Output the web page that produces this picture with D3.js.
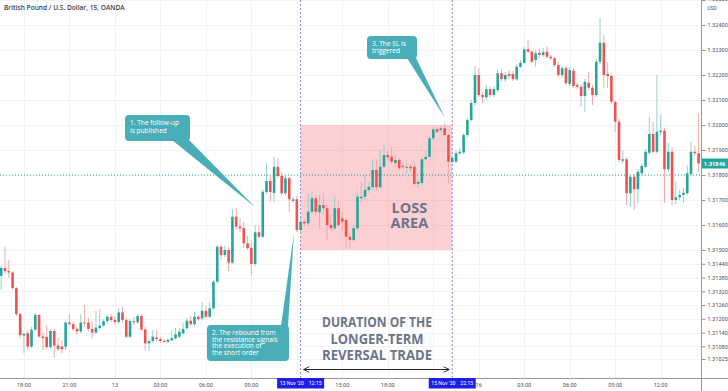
<!DOCTYPE html>
<html>
<head>
<meta charset="utf-8">
<script src="https://cdn.jsdelivr.net/npm/d3@7"></script>
<style>
body { margin: 0; background: #fff; }
svg { display: block; font-family: "Open Sans", sans-serif; }
</style>
</head>
<body>
<script>
// GBP/USD 15 min candles, 12 Nov 16:30 -> 16 Nov 14:30 (weekend skipped)
var open = [
1.31387,1.31422,1.31408,1.31402,1.31334,1.31221,1.31127,1.31138,1.31079,1.31153,
1.31217,1.31123,1.31121,1.31077,1.31147,1.31084,1.31079,1.31079,1.31184,1.31177,
1.31156,1.31145,1.31184,1.31184,1.31156,1.3114,1.3116,1.31171,1.3119,1.31209,
1.31195,1.31186,1.31228,1.31195,1.31122,1.3119,1.31185,1.31212,1.31154,1.31093,
1.31103,1.31119,1.31112,1.31103,1.311,1.31106,1.31115,1.31122,1.31137,1.31159,
1.31192,1.31177,1.31209,1.31202,1.31235,1.31209,1.31246,1.31362,1.31513,1.31478,
1.315,1.31445,1.31633,1.31594,1.31588,1.31527,1.31508,1.31439,1.31571,1.31553,
1.31732,1.31776,1.31728,1.31833,1.31796,1.31727,1.31787,1.31696,1.31703,1.3158,
1.31613,1.31607,1.31653,1.31707,1.31651,1.3168,1.31667,1.316,1.31587,1.31667,
1.31627,1.3162,1.31553,1.3154,1.31587,1.31707,1.31713,1.3174,1.31751,1.3182,
1.31751,1.31833,1.3188,1.31873,1.31848,1.3186,1.31837,1.31832,1.31833,1.31833,
1.31764,1.31768,1.31863,1.31873,1.31947,1.31983,1.3198,1.31987,1.3196,1.31852,
1.31853,1.31887,1.3189,1.3196,1.3202,1.32088,1.322,1.3212,1.32111,1.32143,
1.3212,1.3214,1.32207,1.32183,1.32204,1.32204,1.32183,1.32233,1.32248,1.32303,
1.32293,1.3226,1.32288,1.3228,1.32293,1.32273,1.32267,1.3224,1.322,1.32227,
1.32164,1.32217,1.3216,1.32153,1.32116,1.32169,1.32149,1.3212,1.32253,1.32329,
1.32204,1.32196,1.32092,1.32013,1.31857,1.31863,1.31727,1.31793,1.31743,1.31807,
1.31833,1.31889,1.31964,1.31893,1.31972,1.31977,1.31823,1.31893,1.317,1.31711,
1.3172,1.31727,1.31804,1.31893,1.31887
];
var high = [
1.31435,1.31512,1.31456,1.31408,1.31339,1.31225,1.31138,1.31151,1.31164,1.31225,
1.31221,1.31142,1.31173,1.31156,1.31156,1.31116,1.31108,1.3119,1.31221,1.31186,
1.31164,1.31221,1.3126,1.31204,1.3119,1.31234,1.31243,1.31199,1.31217,1.31221,
1.31212,1.31248,1.31251,1.31204,1.31199,1.31208,1.31221,1.31221,1.31164,1.31112,
1.31151,1.31151,1.31121,1.31112,1.31116,1.31151,1.3116,1.3116,1.31182,1.31204,
1.31212,1.3123,1.31217,1.31273,1.31256,1.31273,1.31369,1.3152,1.31524,1.31516,
1.31512,1.31663,1.31668,1.31628,1.31612,1.31556,1.3154,1.316,1.316,1.3174,
1.31847,1.318,1.31873,1.31868,1.31812,1.318,1.31792,1.31712,1.31716,1.31624,
1.31624,1.31728,1.31736,1.3172,1.3172,1.31728,1.3168,1.3164,1.3172,1.31696,
1.31652,1.31628,1.31568,1.316,1.31728,1.31772,1.318,1.31772,1.3186,1.3186,
1.319,1.3192,1.319,1.31912,1.3188,1.31868,1.31852,1.31848,1.31844,1.31848,
1.31784,1.31872,1.319,1.31956,1.31992,1.31992,1.32,1.32007,1.31968,1.31872,
1.319,1.31908,1.31968,1.32028,1.321,1.32236,1.32228,1.32132,1.3216,1.32152,
1.32156,1.3222,1.32224,1.32212,1.3222,1.32216,1.32244,1.3226,1.32312,1.3234,
1.323,1.323,1.32304,1.32308,1.32313,1.3228,1.32272,1.32252,1.32236,1.32236,
1.32232,1.32228,1.32168,1.32164,1.32184,1.32213,1.3216,1.32264,1.32427,1.3236,
1.32252,1.32204,1.321,1.32024,1.319,1.31872,1.31804,1.31804,1.31824,1.31848,
1.31904,1.32033,1.32013,1.322,1.3204,1.31988,1.31928,1.31912,1.31773,1.3174,
1.31748,1.3184,1.31933,1.31916,1.32047
];
var low = [
1.31326,1.31395,1.31378,1.31326,1.31212,1.31116,1.31051,1.31064,1.31073,1.31147,
1.31116,1.31064,1.31068,1.31068,1.31029,1.3106,1.31051,1.31064,1.31169,1.31147,
1.31129,1.31138,1.31164,1.31147,1.31116,1.31134,1.31151,1.31164,1.31182,1.31186,
1.31173,1.31177,1.31182,1.31116,1.31116,1.31173,1.31177,1.31147,1.3106,1.3106,
1.31095,1.31103,1.31095,1.31095,1.31095,1.31103,1.31108,1.31116,1.31129,1.31151,
1.31169,1.31169,1.3119,1.31195,1.31204,1.31204,1.31238,1.31356,1.31456,1.31469,
1.31408,1.31439,1.3158,1.31572,1.31508,1.315,1.31391,1.3143,1.31548,1.31548,
1.31724,1.31692,1.31693,1.31788,1.3172,1.3172,1.31653,1.31688,1.31572,1.31568,
1.31596,1.31596,1.31644,1.3164,1.31588,1.3164,1.3154,1.31576,1.3158,1.31592,
1.3158,1.31508,1.31504,1.31532,1.3158,1.31688,1.317,1.31728,1.3174,1.3174,
1.31748,1.31828,1.3186,1.31844,1.31832,1.3182,1.31824,1.31808,1.31812,1.31756,
1.31748,1.3176,1.31856,1.31868,1.3194,1.31968,1.31972,1.31952,1.31767,1.31848,
1.31848,1.3188,1.31884,1.31952,1.32012,1.32076,1.32112,1.32088,1.321,1.32112,
1.32112,1.32132,1.32176,1.32172,1.32184,1.32176,1.32176,1.32228,1.32244,1.32288,
1.32248,1.32233,1.32268,1.32272,1.32268,1.3226,1.32232,1.32192,1.32188,1.3216,
1.32156,1.32148,1.32144,1.32073,1.32053,1.3214,1.3208,1.32112,1.32244,1.32147,
1.32148,1.32084,1.31972,1.31852,1.31848,1.3168,1.31673,1.3166,1.31687,1.318,
1.31828,1.3188,1.31888,1.31884,1.3196,1.31688,1.31812,1.3168,1.31684,1.317,
1.31688,1.3172,1.31796,1.31876,1.31812
];
var close = [
1.31422,1.31408,1.31402,1.31334,1.31221,1.31129,1.31134,1.31079,1.31153,1.31217,
1.31123,1.31116,1.31077,1.31147,1.31084,1.31068,1.31068,1.31184,1.31177,1.31156,
1.31145,1.31184,1.31182,1.31156,1.3114,1.31162,1.31171,1.3119,1.31209,1.31195,
1.31186,1.31228,1.31195,1.31122,1.3119,1.31185,1.31212,1.31154,1.31093,1.31103,
1.31122,1.31112,1.31103,1.311,1.31108,1.31116,1.31132,1.31144,1.31156,1.31192,
1.31177,1.31209,1.31199,1.31235,1.31209,1.31246,1.31362,1.31513,1.31478,1.315,
1.31445,1.31633,1.31593,1.31586,1.31527,1.31507,1.31439,1.31571,1.31553,1.31733,
1.31776,1.31732,1.31833,1.31796,1.31727,1.31787,1.31703,1.31703,1.3158,1.31613,
1.31607,1.31653,1.31707,1.31653,1.3168,1.31667,1.316,1.31587,1.31667,1.316,
1.31613,1.31553,1.3154,1.31587,1.31713,1.31713,1.3174,1.31753,1.3182,1.31751,
1.31833,1.3188,1.31871,1.31853,1.3186,1.31827,1.31833,1.31833,1.31827,1.31764,
1.31773,1.31863,1.31873,1.31947,1.31983,1.31973,1.31987,1.3196,1.31853,1.31868,
1.31887,1.31893,1.3196,1.3202,1.32088,1.322,1.3212,1.32111,1.32143,1.3212,
1.32144,1.32207,1.32183,1.322,1.32196,1.32183,1.32233,1.32249,1.32303,1.32293,
1.32253,1.32287,1.3228,1.32291,1.32273,1.32267,1.3224,1.322,1.32227,1.32167,
1.3222,1.32156,1.32153,1.32116,1.32173,1.32149,1.3212,1.32253,1.32329,1.322,
1.32196,1.32093,1.32013,1.3186,1.31863,1.31727,1.31793,1.31743,1.31813,1.31836,
1.31893,1.31964,1.31893,1.31973,1.31977,1.31823,1.31893,1.317,1.31711,1.3172,
1.31729,1.31807,1.31893,1.31887,1.31846
];

// time axis: labels and the candle index they sit on
var xLabels = ["18:00", "21:00", "13", "03:00", "06:00", "09:00", "12:00", "15:00", "18:00", "21:00", "16", "03:00", "06:00", "09:00", "12:00"];
var xLabelIdx = [6, 18, 30, 42, 54, 66, 78, 90, 102, 114, 126, 138, 150, 162, 174];

// price axis labels as printed on the chart
var yTicks = [1.325, 1.324, 1.323, 1.322, 1.321, 1.320, 1.319, 1.318, 1.317, 1.316, 1.315,
              1.3144, 1.3138, 1.3132, 1.3126, 1.3120, 1.3114, 1.3108, 1.31025];

// trade markers
var entryIdx = 79, exitIdx = 119;
var entryLabel = ["13 Nov '20", "12:15"], exitLabel = ["15 Nov '20", "22:15"];
var lossTop = 1.3200, lossBottom = 1.3150;
var lastPrice = 1.31846;
var entryLevel = 1.3180;

var width = 728, height = 391;
var plotRight = 701, plotBottom = 378;
var green = "#26a69a", red = "#ef5350";
var calloutFill = "#4aaeb8";
var noteColor = "#6c7589";
var axisFont = "Roboto, sans-serif";

var svg = d3.select("body").append("svg")
  .attr("width", width)
  .attr("height", height);

svg.append("rect").attr("width", width).attr("height", height).attr("fill", "#fff");

var x = d3.scaleLinear().domain([0, open.length - 1]).range([1.2, 698.6]);
// the printed labels are not evenly spaced below 1.315, so two segments
var y = d3.scaleLinear().domain([1.31025, 1.315, 1.325]).range([359, 250, 0]);

// grid
svg.append("g").selectAll("line")
  .data(yTicks).enter().append("line")
  .attr("x1", 0).attr("x2", plotRight)
  .attr("y1", d => Math.round(y(d)) + 0.5).attr("y2", d => Math.round(y(d)) + 0.5)
  .attr("stroke", "#f1f3f7");
svg.append("g").selectAll("line")
  .data(xLabelIdx).enter().append("line")
  .attr("x1", d => Math.round(x(d)) + 0.5).attr("x2", d => Math.round(x(d)) + 0.5)
  .attr("y1", 0).attr("y2", plotBottom)
  .attr("stroke", "#f1f3f7");

// loss area
svg.append("rect")
  .attr("x", x(entryIdx))
  .attr("y", y(lossTop))
  .attr("width", x(exitIdx) - x(entryIdx))
  .attr("height", y(lossBottom) - y(lossTop))
  .attr("fill", "rgba(242, 54, 69, 0.24)");

// entry level line
svg.append("line")
  .attr("x1", 0).attr("x2", plotRight)
  .attr("y1", y(entryLevel)).attr("y2", y(entryLevel))
  .attr("stroke", green).attr("stroke-width", 1)
  .attr("stroke-dasharray", "1,2");

// vertical markers
svg.selectAll(".vmark")
  .data([entryIdx, exitIdx]).enter().append("line")
  .attr("class", "vmark")
  .attr("x1", d => x(d)).attr("x2", d => x(d))
  .attr("y1", 0).attr("y2", plotBottom)
  .attr("stroke", "#8c87d9").attr("stroke-width", 1)
  .attr("stroke-dasharray", "2,2");

// candles
var idx = d3.range(open.length);
var bodyW = 2.6;
svg.append("g").selectAll("line")
  .data(idx).enter().append("line")
  .attr("x1", i => x(i)).attr("x2", i => x(i))
  .attr("y1", i => y(high[i])).attr("y2", i => y(low[i]))
  .attr("stroke", i => close[i] >= open[i] ? "#93d2cc" : "#f5a9a8")
  .attr("stroke-width", 1);
svg.append("g").selectAll("rect")
  .data(idx).enter().append("rect")
  .attr("x", i => x(i) - bodyW / 2)
  .attr("y", i => y(Math.max(open[i], close[i])))
  .attr("width", bodyW)
  .attr("height", i => Math.max(1, Math.abs(y(open[i]) - y(close[i]))))
  .attr("fill", i => close[i] >= open[i] ? green : red);

// LOSS AREA label
svg.append("text")
  .attr("x", x(107.7)).attr("y", 213)
  .attr("text-anchor", "middle")
  .attr("font-size", 14.5).attr("font-weight", 700)
  .attr("fill", noteColor)
  .selectAll("tspan")
  .data(["LOSS", "AREA"]).enter().append("tspan")
  .attr("x", x(107.7))
  .attr("dy", (d, i) => i ? 14.5 : 0)
  .text(d => d);

// duration note
var durLines = ["DURATION OF THE", "LONGER-TERM", "REVERSAL TRADE"];
svg.append("g").selectAll("text")
  .data(durLines).enter().append("text")
  .attr("x", 377).attr("y", (d, i) => 327 + i * 16.5)
  .attr("text-anchor", "middle")
  .attr("font-size", 13.5).attr("font-weight", 700)
  .attr("fill", noteColor)
  .attr("textLength", (d, i) => i == 1 ? 93 : 110)
  .attr("lengthAdjust", "spacingAndGlyphs")
  .text(d => d);

// double arrow
var defs = svg.append("defs");
defs.append("marker")
  .attr("id", "ah").attr("viewBox", "0 0 10 10")
  .attr("refX", 9).attr("refY", 5)
  .attr("markerWidth", 7).attr("markerHeight", 7)
  .attr("orient", "auto-start-reverse")
  .append("path").attr("d", "M1,1 L9,5 L1,9").attr("fill", "none")
  .attr("stroke", "#222").attr("stroke-width", 1.3);
svg.append("line")
  .attr("x1", x(entryIdx) + 3).attr("x2", x(exitIdx) - 3)
  .attr("y1", 369.5).attr("y2", 369.5)
  .attr("stroke", "#222").attr("stroke-width", 1)
  .attr("marker-start", "url(#ah)").attr("marker-end", "url(#ah)");

// callouts
var callouts = [
  { box: [125, 115, 65, 26], tail: [[172, 140], [189, 140], [255, 207]], lines: ["1. The follow-up", "is published"], lh: 7.5 },
  { box: [207, 325, 82, 36], tail: [[281, 326], [288, 326], [294, 233]], lines: ["2. The rebound from", "the resistance signals", "the execution of", "the short order"], lh: 6.6 },
  { box: [367, 36, 50, 23], tail: [[407, 58], [416, 58], [445, 118]], lines: ["3. The SL is", "triggered"], lh: 7 }
];
callouts.forEach(function (c) {
  var g = svg.append("g");
  g.append("path")
    .attr("d", "M" + c.tail.join("L") + "Z")
    .attr("fill", calloutFill);
  g.append("rect")
    .attr("x", c.box[0]).attr("y", c.box[1])
    .attr("width", c.box[2]).attr("height", c.box[3])
    .attr("rx", 4).attr("fill", calloutFill);
  g.selectAll("text")
    .data(c.lines).enter().append("text")
    .attr("x", c.box[0] + 5)
    .attr("y", (d, i) => c.box[1] + 10 + i * c.lh)
    .attr("font-size", 6.6).attr("fill", "#fff")
    .text(d => d);
});

// axes frame
svg.append("rect").attr("x", plotRight).attr("y", 0).attr("width", width - plotRight).attr("height", height).attr("fill", "#fff");
svg.append("rect").attr("x", 0).attr("y", plotBottom).attr("width", width).attr("height", height - plotBottom).attr("fill", "#fff");
svg.append("line").attr("x1", plotRight + 0.5).attr("x2", plotRight + 0.5).attr("y1", 0).attr("y2", height).attr("stroke", "#9598a1");
svg.append("line").attr("x1", 0).attr("x2", width).attr("y1", plotBottom + 0.5).attr("y2", plotBottom + 0.5).attr("stroke", "#9598a1");

// price axis
var axisY = d3.axisRight(y).tickValues(yTicks).tickFormat(d3.format(".5f")).tickSize(4).tickPadding(2);
var gy = svg.append("g")
  .attr("transform", "translate(" + (plotRight + 0.5) + ",0)")
  .call(axisY);
gy.select(".domain").remove();
gy.selectAll("line").attr("stroke", "#9598a1");
gy.selectAll("text").attr("font-size", 5.6).attr("fill", "#50535e").attr("font-family", axisFont);
// top label sits half outside the window like on the original
gy.selectAll(".tick").filter(d => d == 1.325).select("text").attr("dy", "0.1em");
svg.append("text").attr("x", 712).attr("y", 9.5).attr("text-anchor", "middle")
  .attr("font-size", 5).attr("fill", "#50535e").attr("font-family", axisFont).text("USD");

// last price tag
svg.append("rect").attr("x", plotRight + 1).attr("y", y(lastPrice) - 5).attr("width", width - plotRight).attr("height", 10).attr("fill", green);
svg.append("text").attr("x", 714.5).attr("y", y(lastPrice) + 2)
  .attr("text-anchor", "middle").attr("font-size", 5.8).attr("font-weight", 700)
  .attr("fill", "#fff").attr("font-family", axisFont)
  .text(d3.format(".5f")(lastPrice));

// time axis, labels under the marker tags are hidden
var tagHalf = 23.5;
var shown = xLabelIdx.map((d, i) => i).filter(function (i) {
  return [entryIdx, exitIdx].every(m => Math.abs(x(xLabelIdx[i]) - x(m)) > tagHalf + 2);
});
svg.append("g").selectAll("text")
  .data(shown).enter().append("text")
  .attr("x", i => x(xLabelIdx[i])).attr("y", 387)
  .attr("text-anchor", "middle")
  .attr("font-size", 5.6).attr("fill", "#50535e").attr("font-family", axisFont)
  .text(i => xLabels[i]);

// date tags of the two markers
[[entryIdx, entryLabel], [exitIdx, exitLabel]].forEach(function (m) {
  var cx = x(m[0]);
  svg.append("rect").attr("x", cx - tagHalf).attr("y", 378).attr("width", tagHalf * 2).attr("height", 10.5).attr("fill", "#1e1ee6");
  svg.append("text").attr("x", cx - 21).attr("y", 385.3)
    .attr("font-size", 5.2).attr("fill", "#fff").attr("font-family", axisFont)
    .text(m[1][0]);
  svg.append("text").attr("x", cx + 21).attr("y", 385.3).attr("text-anchor", "end")
    .attr("font-size", 5.2).attr("fill", "#fff").attr("font-family", axisFont)
    .text(m[1][1]);
});

// title
svg.append("text").attr("x", 4).attr("y", 9.5)
  .attr("font-size", 6.6).attr("font-weight", 600).attr("fill", "#3a3d46")
  .text("British Pound / U.S. Dollar, 15, OANDA");
</script>
</body>
</html>
